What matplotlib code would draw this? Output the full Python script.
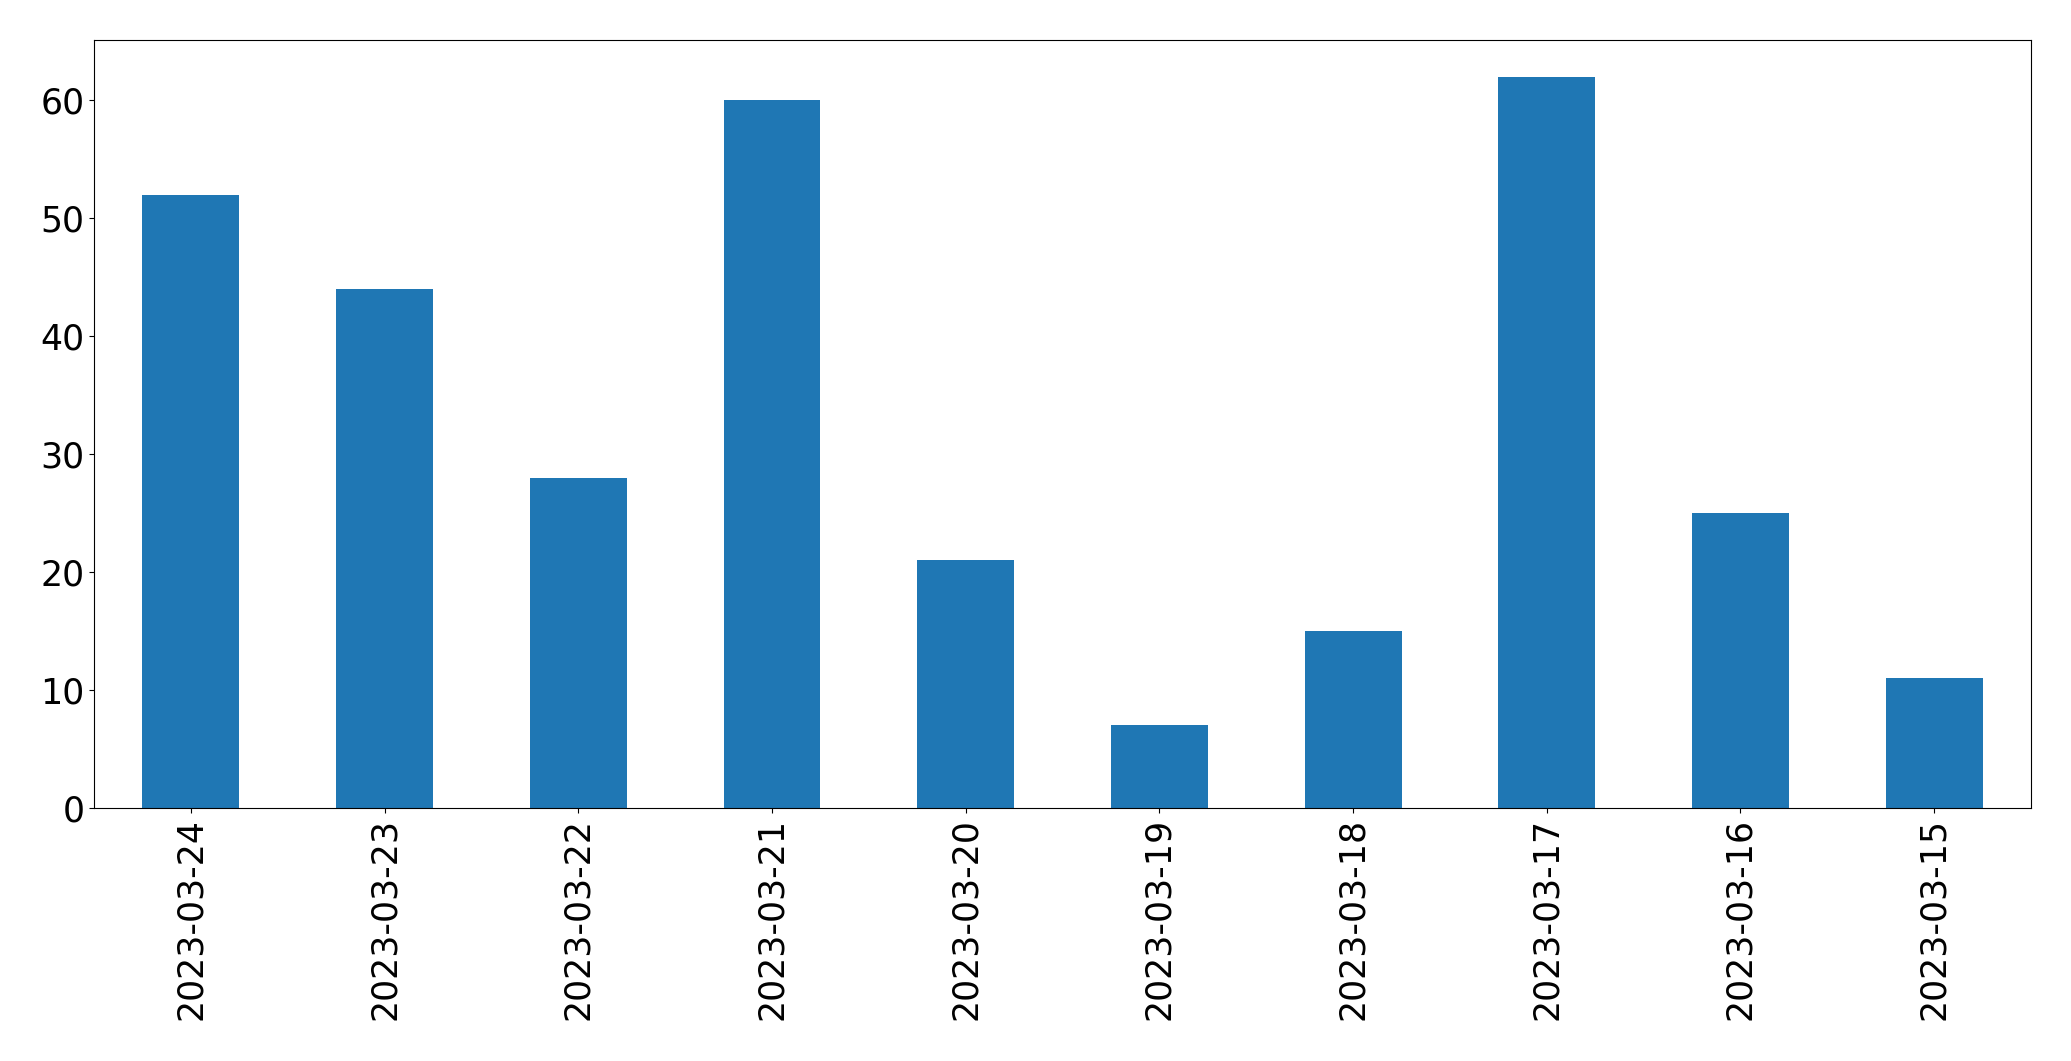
import matplotlib
matplotlib.use('Agg')
import matplotlib.pyplot as plt
import pandas as pd

dates = ["2023-03-24", "2023-03-23", "2023-03-22", "2023-03-21", "2023-03-20",
         "2023-03-19", "2023-03-18", "2023-03-17", "2023-03-16", "2023-03-15"]
counts = [52, 44, 28, 60, 21, 7, 15, 62, 25, 11]

def main():
    series = pd.Series(counts, index=dates)
    fig = plt.figure(figsize=(20.71, 10.61), dpi=100)
    ax = fig.add_axes([0.0454, 0.2385, 0.9353, 0.7238])
    series.plot(kind='bar', ax=ax, color='#1f77b4')
    ax.tick_params(axis='both', labelsize=25)
    fig.savefig('out.png', dpi=100)

if __name__ == "__main__":
    main()
